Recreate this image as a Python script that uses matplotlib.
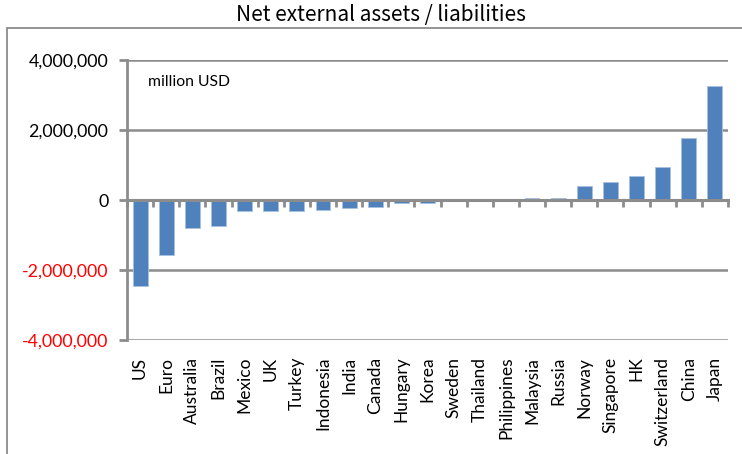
import matplotlib.pyplot as plt
import matplotlib.ticker as mticker
from matplotlib.patches import Rectangle
import numpy as np

countries = ["US", "Euro", "Australia", "Brazil", "Mexico", "UK", "Turkey",
             "Indonesia", "India", "Canada", "Hungary", "Korea", "Sweden",
             "Thailand", "Philippines", "Malaysia", "Russia", "Norway",
             "Singapore", "HK", "Switzerland", "China", "Japan"]
net_position = [-2460000, -1560000, -790000, -750000, -310000, -300000, -310000,
                -280000, -240000, -190000, -90000, -90000, -5000,
                5000, 3000, 55000, 60000, 400000,
                520000, 700000, 950000, 1770000, 3260000]
y_ticks = [-4000000, -2000000, 0, 2000000, 4000000]

W, H = 742, 454
grey = "#8c8c8c"

fig = plt.figure(figsize=(W / 100, H / 100), dpi=100)

# chart frame, only left and top edges fall inside the image
fig.patches.append(Rectangle((7 / W, -0.1), 1.1, (H - 28) / H + 0.1,
                             transform=fig.transFigure, fill=False,
                             edgecolor=grey, linewidth=1.3))

fig.text(381 / W, 1 - 15 / H, "Net external assets / liabilities",
         ha="center", va="center", fontsize=15,
         family=["Noto Sans CJK JP", "DejaVu Sans"])

ax = fig.add_axes([127 / W, 1 - 340 / H, (728 - 127) / W, (340 - 60) / H])
x = np.arange(len(countries))
ax.bar(x, net_position, width=0.57, color="#4f81bd", edgecolor="#a9c1e0",
       linewidth=0.6, zorder=3)

ax.set_xlim(-0.5, len(countries) - 0.5)
ax.set_ylim(y_ticks[0], y_ticks[-1])
ax.set_yticks(y_ticks)
ax.yaxis.set_major_formatter(mticker.FuncFormatter(lambda v, p: f"{int(v):,}"))
ax.grid(axis="y", color=grey, linewidth=1.8, zorder=0)

for s in ["top", "right"]:
    ax.spines[s].set_visible(False)
ax.spines["left"].set_color(grey)
ax.spines["left"].set_linewidth(2)
ax.spines["bottom"].set_position(("data", 0))
ax.spines["bottom"].set_color(grey)
ax.spines["bottom"].set_linewidth(2.2)
ax.spines["bottom"].set_zorder(4)

ax.tick_params(axis="y", direction="out", length=6, width=2, color=grey,
               labelsize=12.8, pad=7.5)
for lbl in ax.get_yticklabels():
    lbl.set_fontfamily("Lato")
    if lbl.get_text().startswith("-"):
        lbl.set_color("red")

# category boundary ticks on the zero axis
ax.set_xticks(np.arange(len(countries) + 1) - 0.5)
ax.set_xticklabels([])
ax.tick_params(axis="x", direction="out", length=5, width=2, color=grey)

# category names along the bottom of the plot
sec = ax.secondary_xaxis(0)
sec.set_xticks(x)
sec.set_xticklabels(countries, rotation=90, fontsize=12.5, family="Lato")
sec.tick_params(length=0, pad=12)
sec.spines["bottom"].set_visible(False)

fig.text(148 / W, 1 - 82 / H, "million USD", fontsize=11.3, family="Lato",
         va="center")

fig.savefig("out.png", dpi=100)
